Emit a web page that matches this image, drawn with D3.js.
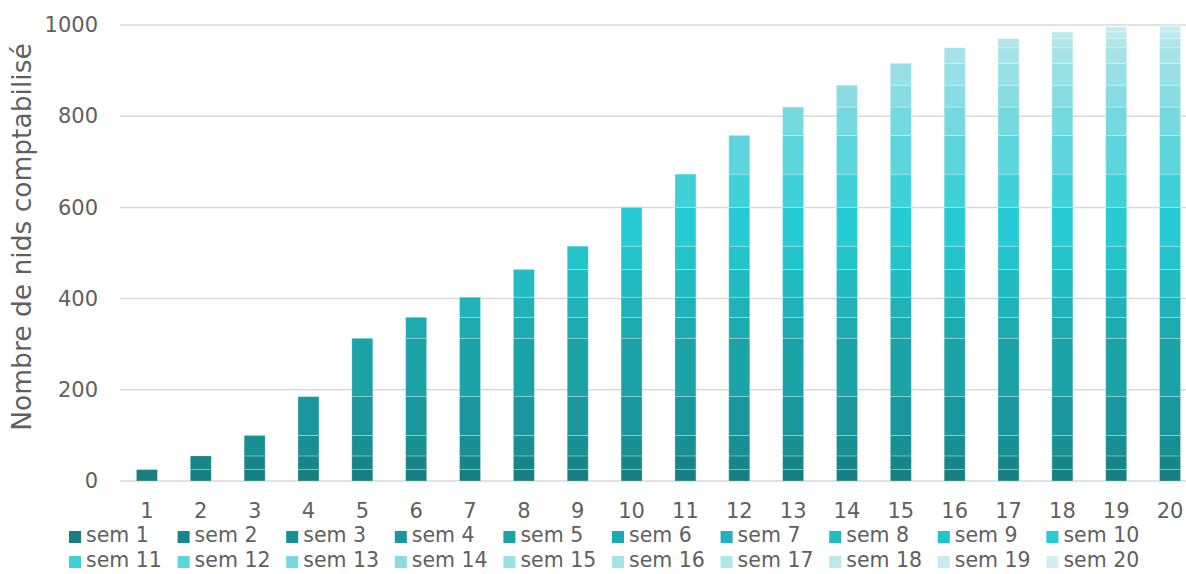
<!DOCTYPE html>
<html>
<head>
<meta charset="utf-8">
<script src="https://cdn.jsdelivr.net/npm/d3@7"></script>
<style>
  html, body { margin: 0; padding: 0; background: #fff; }
  svg { display: block; font-family: "DejaVu Sans", sans-serif; }
</style>
</head>
<body>
<svg id="chart" width="1186" height="574"></svg>
<script>
// Weeks shown on the x axis
const weeks = ["1","2","3","4","5","6","7","8","9","10","11","12","13","14","15","16","17","18","19","20"];
// Series names (one per week of counting)
const seriesNames = ["sem 1","sem 2","sem 3","sem 4","sem 5","sem 6","sem 7","sem 8","sem 9","sem 10",
                     "sem 11","sem 12","sem 13","sem 14","sem 15","sem 16","sem 17","sem 18","sem 19","sem 20"];
// Nests newly counted during each week
const weeklyNew = [25, 30, 45, 85, 128, 46, 44, 61, 51, 85, 73, 85, 62, 48, 48, 34, 20, 15, 11, 4];
// Series colours, dark teal to pale cyan
const seriesColors = ["#177e81","#17868a","#188f93","#1a979c","#1ca3a8","#1eabaf","#20b2b8","#22bbc1","#23c3ca","#26cbd3",
                      "#40d1d8","#5cd5dc","#76d9e0","#88dce2","#98e0e6","#a5e3e8","#b0e6ea","#bce9ec","#c6ecef","#d0eff2"];
const yTicks = [0, 200, 400, 600, 800, 1000];

// Each bar stacks every week's count recorded up to and including that week
const rows = weeks.map((w, j) => {
  const r = { week: w };
  seriesNames.forEach((s, k) => { r[s] = k <= j ? weeklyNew[k] : 0; });
  return r;
});

const svg = d3.select("#chart");
const plotLeft = 120, plotRight = 1197, plotTop = 25, plotBottom = 481;
const textColor = "#5f5f5f";

const x = d3.scaleBand().domain(weeks).range([plotLeft, plotRight]).paddingInner(0.61).paddingOuter(0.305);
const y = d3.scaleLinear().domain([0, 1000]).range([plotBottom, plotTop]);
const color = d3.scaleOrdinal().domain(seriesNames).range(seriesColors);

// Gridlines
svg.append("g")
  .selectAll("line").data(yTicks).join("line")
  .attr("x1", plotLeft).attr("x2", 1186)
  .attr("y1", d => y(d)).attr("y2", d => y(d))
  .attr("stroke", "#d9d9d9").attr("stroke-width", 1.5);

// Y axis labels
const yAxis = svg.append("g").attr("transform", `translate(${plotLeft},0)`)
  .call(d3.axisLeft(y).tickValues(yTicks).tickFormat(d3.format("d")).tickSize(0).tickPadding(22));
yAxis.select(".domain").remove();
yAxis.selectAll("text").attr("font-size", 21).attr("fill", textColor)
  .attr("font-family", "DejaVu Sans, sans-serif");

// Stacked bars
const stacked = d3.stack().keys(seriesNames)(rows);
svg.append("g")
  .selectAll("g").data(stacked).join("g")
  .attr("fill", d => color(d.key))
  .selectAll("rect").data(d => d.filter(p => p[1] > p[0])).join("rect")
  .attr("x", d => x(d.data.week))
  .attr("width", x.bandwidth())
  .attr("y", d => y(d[1]))
  .attr("height", d => y(d[0]) - y(d[1]))
  .attr("stroke", "rgba(255,255,255,0.35)")
  .attr("stroke-width", 0.75);

// X axis labels
const xAxis = svg.append("g").attr("transform", `translate(0,${plotBottom})`)
  .call(d3.axisBottom(x).tickSize(0).tickPadding(22));
xAxis.select(".domain").remove();
xAxis.selectAll("text").attr("font-size", 21).attr("fill", textColor)
  .attr("font-family", "DejaVu Sans, sans-serif");

// Y axis title
svg.append("text")
  .attr("transform", "translate(31,237) rotate(-90)")
  .attr("text-anchor", "middle")
  .attr("font-size", 26.5)
  .attr("fill", textColor)
  .text("Nombre de nids comptabilisé");

// Legend: two rows of ten
const legend = svg.append("g")
  .selectAll("g").data(seriesNames).join("g")
  .attr("transform", (d, i) => `translate(${69 + (i % 10) * 108.6},${i < 10 ? 537 : 562})`);
legend.append("rect")
  .attr("x", 0).attr("y", -6).attr("width", 12).attr("height", 12)
  .attr("fill", d => color(d));
legend.append("text")
  .attr("x", 17).attr("y", 5)
  .attr("font-size", 20.5).attr("fill", textColor)
  .text(d => d);
</script>
</body>
</html>
